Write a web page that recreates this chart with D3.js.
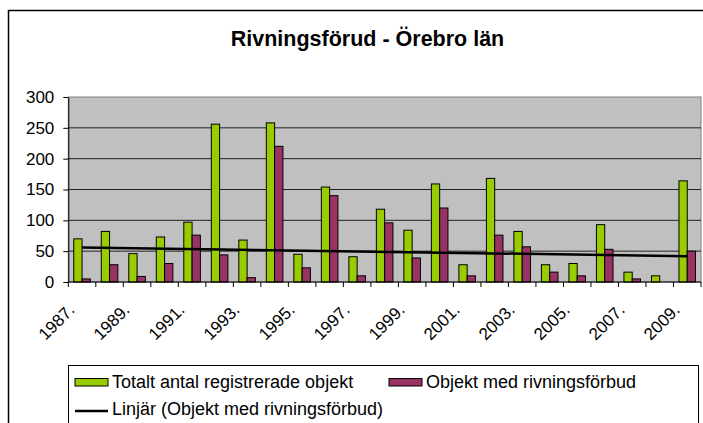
<!DOCTYPE html>
<html>
<head>
<meta charset="utf-8">
<style>
  body { margin: 0; background: #fff; }
  svg { display: block; font-family: "Liberation Sans", Arial, sans-serif; }
</style>
<title>Rivningsförud - Örebro län</title>
</head>
<body>
<div id="chart"></div>
<script src="https://cdn.jsdelivr.net/npm/d3@7"></script>
<script>
// data
var years = ["1987", "1988", "1989", "1990", "1991", "1992", "1993", "1994", "1995", "1996", "1997", "1998",
             "1999", "2000", "2001", "2002", "2003", "2004", "2005", "2006", "2007", "2008", "2009"];
var totalt = [70, 82, 46, 73, 97, 256, 68, 258, 45, 154, 41, 118, 84, 159, 28, 168, 82, 28, 30, 93, 16, 10, 164];
var forbud = [5, 28, 9, 30, 76, 44, 7, 220, 23, 140, 10, 96, 39, 120, 10, 76, 57, 16, 10, 53, 5, 0, 50];
var seriesNames = ["Totalt antal registrerade objekt", "Objekt med rivningsförbud"];
var trendName = "Linjär (Objekt med rivningsförbud)";
var yTicks = [0, 50, 100, 150, 200, 250, 300];
var colors = ["#99cc00", "#993366"];

var width = 703, height = 423;
var plot = { left: 68.3, right: 701, top: 97, bottom: 282 };

var svg = d3.select("#chart").append("svg")
    .attr("width", width)
    .attr("height", height);

// outer chart frame (cut off at right and bottom)
svg.append("rect")
    .attr("x", 8.5).attr("y", 10.5)
    .attr("width", 740).attr("height", 460)
    .attr("fill", "#fff")
    .attr("stroke", "#000")
    .attr("stroke-width", 1.5);

svg.append("text")
    .attr("x", 367.5).attr("y", 46)
    .attr("text-anchor", "middle")
    .style("font-size", "21.5px")
    .style("font-weight", "bold")
    .text("Rivningsförud - Örebro län");

var x = d3.scaleBand().domain(years).range([plot.left, plot.right]);
var x1 = d3.scaleBand().domain([0, 1]).range([0, x.bandwidth()]).paddingOuter(0.66);
var y = d3.scaleLinear().domain([0, 300]).range([plot.bottom, plot.top]);

// plot area
svg.append("rect")
    .attr("x", plot.left).attr("y", plot.top)
    .attr("width", plot.right - plot.left).attr("height", plot.bottom - plot.top)
    .attr("fill", "#c0c0c0")
    .attr("stroke", "#808080");

svg.append("g").selectAll("line")
    .data(yTicks.slice(1, -1))
    .join("line")
    .attr("x1", plot.left).attr("x2", plot.right)
    .attr("y1", function (d) { return y(d); })
    .attr("y2", function (d) { return y(d); })
    .attr("stroke", "#222")
    .attr("stroke-width", 1);

// bars
var groups = svg.append("g").selectAll("g")
    .data(years)
    .join("g")
    .attr("transform", function (d) { return "translate(" + x(d) + ",0)"; });

groups.selectAll("rect")
    .data(function (d, i) { return [totalt[i], forbud[i]]; })
    .join("rect")
    .attr("x", function (d, j) { return x1(j); })
    .attr("width", x1.bandwidth())
    .attr("y", function (d) { return y(d); })
    .attr("height", function (d) { return y(0) - y(d); })
    .attr("fill", function (d, j) { return colors[j]; })
    .attr("stroke", function (d) { return d > 0 ? "#000" : "none"; })
    .attr("stroke-width", 1);

// linear trend of the second series
var n = forbud.length;
var mx = d3.mean(d3.range(n)), my = d3.mean(forbud);
var slope = d3.sum(d3.range(n), function (i) { return (i - mx) * (forbud[i] - my); }) /
            d3.sum(d3.range(n), function (i) { return (i - mx) * (i - mx); });
var icpt = my - slope * mx;
svg.append("line")
    .attr("x1", x(years[0]) + x.bandwidth() / 2)
    .attr("x2", x(years[n - 1]) + x.bandwidth() / 2)
    .attr("y1", y(icpt))
    .attr("y2", y(icpt + slope * (n - 1)))
    .attr("stroke", "#000")
    .attr("stroke-width", 2.5);

// axes
var yAxis = svg.append("g")
    .attr("transform", "translate(" + plot.left + ",0)")
    .call(d3.axisLeft(y).tickValues(yTicks).tickSize(5).tickSizeOuter(0).tickPadding(9));
yAxis.selectAll("text").style("font-size", "17px").style("font-family", "Liberation Sans, Arial, sans-serif").attr("fill", "#000");
yAxis.select(".domain").attr("stroke", "#000");

var xAxis = svg.append("g")
    .attr("transform", "translate(0," + plot.bottom + ")");
xAxis.append("line")
    .attr("x1", plot.left).attr("x2", plot.right)
    .attr("stroke", "#000");
xAxis.selectAll(".tk")
    .data(years.concat(["end"]))
    .join("line")
    .attr("class", "tk")
    .attr("x1", function (d, i) { return i < n ? x(d) : plot.right; })
    .attr("x2", function (d, i) { return i < n ? x(d) : plot.right; })
    .attr("y1", 0).attr("y2", 5)
    .attr("stroke", "#000");
xAxis.selectAll(".lbl")
    .data(years.filter(function (d, i) { return i % 2 === 0; }))
    .join("text")
    .attr("class", "lbl")
    .attr("text-anchor", "end")
    .style("font-size", "17px")
    .attr("transform", function (d) {
        return "translate(" + (x(d) + x.bandwidth() / 2 - 6.4) + ",29) rotate(-45)";
    })
    .text(function (d) { return d + "."; });

// legend
var leg = svg.append("g");
leg.append("rect")
    .attr("x", 68.5).attr("y", 365.5)
    .attr("width", 630).attr("height", 90)
    .attr("fill", "#fff")
    .attr("stroke", "#000");

var legX = [75, 389];
seriesNames.forEach(function (name, j) {
    leg.append("rect")
        .attr("x", legX[j]).attr("y", 378.5)
        .attr("width", 33).attr("height", 7.5)
        .attr("fill", colors[j])
        .attr("stroke", "#000");
    leg.append("text")
        .attr("x", legX[j] + 37).attr("y", 388)
        .style("font-size", "18px")
        .text(name);
});
leg.append("line")
    .attr("x1", 75).attr("x2", 108)
    .attr("y1", 411).attr("y2", 411)
    .attr("stroke", "#000")
    .attr("stroke-width", 2.5);
leg.append("text")
    .attr("x", 112).attr("y", 415)
    .style("font-size", "18px")
    .text(trendName);
</script>
</body>
</html>
